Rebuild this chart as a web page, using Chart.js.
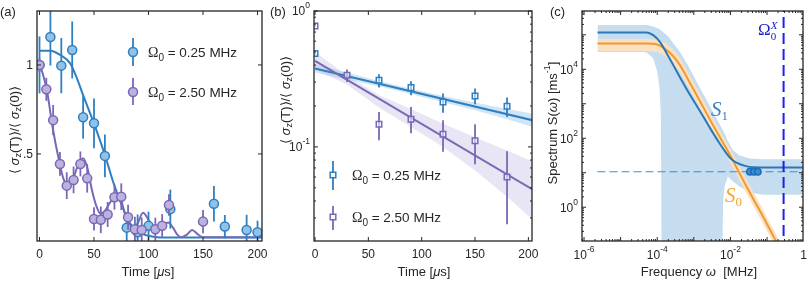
<!DOCTYPE html>
<html>
<head>
<meta charset="utf-8">
<script src="https://cdn.jsdelivr.net/npm/chart.js@4.4.1/dist/chart.umd.min.js"></script>
<style>
  html, body { margin: 0; padding: 0; background: #fff; }
  #wrap { position: relative; width: 810px; height: 286px; overflow: hidden; }
  #wrap canvas { position: absolute; top: 0; }
</style>
</head>
<body>
<div id="wrap">
  <canvas id="panelA" width="270" height="286" style="left:0"></canvas>
  <canvas id="panelB" width="270" height="286" style="left:270px"></canvas>
  <canvas id="panelC" width="270" height="286" style="left:540px"></canvas>
</div>
<script>
// ---------- data: panel (a), linear decay
const rabi = ['0.25', '2.50'];

const tA025 = [0, 10, 20, 30, 40, 50, 60, 80, 90, 100, 120, 160, 170, 190, 200];
const vA025 = [1.0, 1.157, 0.996, 1.084, 0.706, 0.672, 0.489, 0.086, 0.06, 0.096, 0.19, 0.22, 0.092, 0.073, 0.06];
const eA025 = [0.16, 0.16, 0.155, 0.16, 0.12, 0.14, 0.12, 0.085, 0.1, 0.08, 0.11, 0.1, 0.065, 0.085, 0.065];

const tA250 = [0, 6.25, 12.5, 18.75, 25, 31.25, 37.5, 43.75, 50, 56.25, 62.5, 68.75, 75, 81.25, 87.5, 93.75, 106.25, 112.5, 118.75, 150];
const vA250 = [1.0, 0.863, 0.69, 0.444, 0.322, 0.354, 0.444, 0.363, 0.135, 0.13, 0.16, 0.257, 0.26, 0.144, 0.077, 0.073, 0.077, 0.097, 0.213, 0.12];
const eA250 = [0.04, 0.065, 0.085, 0.067, 0.075, 0.075, 0.07, 0.08, 0.065, 0.075, 0.07, 0.07, 0.075, 0.07, 0.07, 0.07, 0.065, 0.065, 0.06, 0.065];

const tFitA025 = [0, 10, 19, 28, 34, 40, 50, 60, 68, 76, 83, 92, 105, 120, 204];
const fitA025 = [1.08, 1.08, 1.056, 1.01, 0.93, 0.83, 0.67, 0.494, 0.335, 0.204, 0.11, 0.058, 0.035, 0.03, 0.03];

const tFitA250 = [0, 3, 7, 12, 18, 22, 26, 30, 35, 40, 44, 48, 52, 56, 60, 65, 70, 74, 78, 82, 86, 90, 95, 100, 105, 110, 114, 118, 122, 126, 130, 135, 140, 145, 150, 204];
const fitA250 = [1.0, 0.95, 0.85, 0.65, 0.46, 0.36, 0.325, 0.35, 0.43, 0.476, 0.42, 0.30, 0.21, 0.165, 0.18, 0.23, 0.265, 0.255, 0.17, 0.11, 0.075, 0.11, 0.17, 0.13, 0.08, 0.075, 0.1, 0.115, 0.09, 0.05, 0.032, 0.045, 0.073, 0.05, 0.032, 0.032];

const ticksA_x = [0, 50, 100, 150, 200];
const labelsA_x = ['0', '50', '100', '150', '200'];
const ticksA_y = [0.5, 1];
const labelsA_y = ['.5', '1'];

// ---------- data: panel (b), log decay with exponential fits
const tB025 = [0, 60, 90, 120, 150, 180];
const vB025 = [0.486, 0.309, 0.273, 0.214, 0.237, 0.199];
const loB025 = [0.478, 0.273, 0.240, 0.178, 0.206, 0.166];
const hiB025 = [0.494, 0.342, 0.304, 0.247, 0.269, 0.231];

const tB250 = [0, 30, 60, 90, 120, 150, 180];
const vB250 = [0.776, 0.337, 0.147, 0.160, 0.124, 0.111, 0.060];
const loB250 = [0.765, 0.300, 0.112, 0.126, 0.092, 0.0746, 0.027];
const hiB250 = [0.787, 0.371, 0.181, 0.197, 0.157, 0.147, 0.093];

const tFitB = [0, 204];
const fitB025 = [0.377, 0.157];
const fitB250 = [0.429, 0.0486];

const tBandB = [0, 30, 60, 90, 120, 150, 180, 204];
const bandHiB025 = [0.405, 0.352, 0.306, 0.268, 0.237, 0.212, 0.19, 0.176];
const bandLoB025 = [0.352, 0.312, 0.279, 0.245, 0.213, 0.186, 0.16, 0.140];
const bandHiB250 = [0.50, 0.335, 0.24, 0.19, 0.148, 0.118, 0.094, 0.078];
const bandLoB250 = [0.37, 0.288, 0.195, 0.14, 0.1, 0.067, 0.043, 0.029];

const ticksB_x = [0, 50, 100, 150, 200];
const labelsB_x = ['0', '50', '100', '150', '200'];
const ticksB_y = [0.1, 1];
const labelsB_y = ['10^-1', '10^0'];

// ---------- data: panel (c), noise spectrum
const wS1 = [2.34e-6, 5.13e-5, 7.76e-5, 1.17e-4, 1.82e-4, 2.75e-4, 4.17e-4, 7.0e-4, 1.45e-3, 2.75e-3, 5.13e-3, 7.94e-3, 1.0e-2, 1.41e-2, 2.51e-2, 4.17e-2, 1];
const S1 = [1.17e5, 1.17e5, 9.77e4, 6.31e4, 2.88e4, 1.32e4, 5.89e3, 2.24e3, 631, 200, 69.2, 35.5, 26.3, 20.0, 15.8, 14.5, 14.1];

const wS0 = [2.34e-6, 5.01e-5, 1e-4, 1.58e-4, 2.51e-4, 4.17e-4, 7.0e-4, 1.17e-3, 3.39e-3, 9.55e-3, 2.75e-2, 7.76e-2, 0.2];
const S0 = [5.62e4, 5.62e4, 5.25e4, 3.98e4, 2.63e4, 1.32e4, 5.01e3, 1.86e3, 234, 33.9, 3.98, 0.537, 0.0794];
const S0hi = [7.59e4, 7.59e4, 7.24e4, 6.03e4, 4.17e4, 2.14e4, 7.94e3, 2.95e3, 363, 52.5, 6.31, 0.851, 0.126];
const S0lo = [3.39e4, 3.39e4, 3.16e4, 2.51e4, 1.66e4, 8.32e3, 3.16e3, 1.17e3, 148, 21.4, 2.51, 0.339, 0.0501];

const wBandS1 = [2.34e-6, 3.98e-5, 5.13e-5, 7.76e-5, 1.0e-4, 1.17e-4, 1.26e-4, 1.32e-4, 2.0e-4, 4.17e-4, 7.0e-4, 1.17e-3, 3.39e-3, 5.89e-3, 6.31e-3, 6.92e-3, 7.94e-3, 8.51e-3, 1.17e-2, 1.78e-2, 3.39e-2, 7.76e-2, 1];
const S1hi = [1.91e5, 1.91e5, 1.91e5, 1.74e5, 1.58e5, 1.45e5, 1.35e5, 1.32e5, 8.91e4, 3.16e4, 1.26e4, 4.47e3, 562, 191, 166, 138, 100, 83.2, 44.7, 31.6, 25.7, 24.5, 24.5];
const S1lo = [3.16e4, 3.16e4, 3.09e4, 2.09e4, 8.51e3, 2.51e3, 417, 0.01, 0.01, 0.01, 0.01, 0.01, 0.01, 0.01, 1.58, 3.98, 6.31, 7.76, 5.62, 3.98, 2.63, 2.29, 2.29];

const wFloor = [2.34e-6, 1];
const floorLevel = [10.7, 10.7];
const wMeasured = [0.034, 0.044, 0.056];
const sMeasured = [10.7, 10.7, 10.7];
const sMeasuredLo = [9.3, 9.3, 9.3];
const sMeasuredHi = [12.3, 12.3, 12.3];
const omegaX = 0.283;

const ticksC_x = [1e-6, 1e-4, 1e-2, 1];
const labelsC_x = ['10^-6', '10^-4', '10^-2', '1'];
const ticksC_y = [1, 100, 1e4];
const labelsC_y = ['10^0', '10^2', '10^4'];

// ---------- styling
const SANS = '"Liberation Sans", Arial, Helvetica, sans-serif';
const SERIF = '"Liberation Serif", "Times New Roman", serif';
const INK = '#262626';
const BLUE = '#2f7fc1', BLUE_FILL = '#8fc2e6';
const PURPLE = '#7a68b6', PURPLE_FILL = '#bdb2de';

// text made of pieces: [text, size, flags, dy, color]; flags: i italic, s serif, k stack on previous piece
function drawRich(ctx, parts, x, y, align, vertical, color) {
  ctx.save();
  ctx.translate(x, y);
  if (vertical) ctx.rotate(-Math.PI / 2);
  ctx.textBaseline = 'middle';
  ctx.textAlign = 'left';
  const items = parts.map(([text, size, flags = '', dy = 0, c]) => {
    const font = (flags.includes('i') ? 'italic ' : '') + size + 'px ' + (flags.includes('s') ? SERIF : SANS);
    ctx.font = font;
    return {text, font, dy, c, stack: flags.includes('k'), w: ctx.measureText(text).width};
  });
  let total = 0, prev = 0;
  items.forEach(it => {
    if (it.stack) { total += Math.max(0, it.w - prev); prev = Math.max(prev, it.w); }
    else { total += it.w; prev = it.w; }
  });
  let cx = align === 'center' ? -total / 2 : align === 'right' ? -total : 0;
  let slot = cx;
  prev = 0;
  items.forEach(it => {
    ctx.font = it.font;
    ctx.fillStyle = it.c || color || INK;
    if (it.stack) {
      ctx.fillText(it.text, slot, it.dy);
      prev = Math.max(prev, it.w);
      cx = slot + prev;
    } else {
      slot = cx;
      ctx.fillText(it.text, cx, it.dy);
      cx += it.w;
      prev = it.w;
    }
  });
  ctx.restore();
}

function tickParts(label) {
  const [base, exp] = label.split('^');
  return exp === undefined ? [[base, 12]] : [[base, 12], [exp, 8.5, '', -6]];
}

function tickSet(scale, majors, isLog) {
  if (!isLog) return majors.map(v => [v, true]);
  const out = [];
  for (let d = Math.floor(Math.log10(scale.min)); d <= Math.ceil(Math.log10(scale.max)); d++) {
    for (let k = 1; k <= 9; k++) {
      const v = k * Math.pow(10, d);
      if (v >= scale.min && v <= scale.max) out.push([v, k === 1]);
    }
  }
  return out;
}

const errorBars = {
  id: 'errorBars',
  beforeDatasetDraw(chart, args) {
    const ds = chart.data.datasets[args.index];
    if (!ds.lo) return;
    const {ctx, chartArea: a} = chart;
    const xs = chart.scales.x, ys = chart.scales.y;
    ctx.save();
    ctx.beginPath();
    ctx.rect(a.left, a.top, a.width, a.height);
    ctx.clip();
    ctx.strokeStyle = ds.pointBorderColor;
    ctx.lineWidth = 1.8;
    ds.data.forEach((p, i) => {
      const px = xs.getPixelForValue(p.x);
      ctx.beginPath();
      ctx.moveTo(px, ys.getPixelForValue(ds.lo[i]));
      ctx.lineTo(px, ys.getPixelForValue(ds.hi[i]));
      ctx.stroke();
    });
    ctx.restore();
  }
};

const frame = {
  id: 'frame',
  afterDatasetsDraw(chart, args, o) {
    const {ctx, chartArea: a} = chart;
    const xs = chart.scales.x, ys = chart.scales.y;
    ctx.save();
    ctx.strokeStyle = INK;
    ctx.lineWidth = 1;
    tickSet(xs, o.xTicks, o.xLog).forEach(([v, major]) => {
      const p = xs.getPixelForValue(v), len = major ? 4 : 2;
      ctx.beginPath();
      ctx.moveTo(p, a.bottom); ctx.lineTo(p, a.bottom - len);
      ctx.moveTo(p, a.top); ctx.lineTo(p, a.top + len);
      ctx.stroke();
    });
    tickSet(ys, o.yTicks, o.yLog).forEach(([v, major]) => {
      const p = ys.getPixelForValue(v), len = major ? 4 : 2;
      ctx.beginPath();
      ctx.moveTo(a.left, p); ctx.lineTo(a.left + len, p);
      ctx.moveTo(a.right, p); ctx.lineTo(a.right - len, p);
      ctx.stroke();
    });
    ctx.lineWidth = 1.3;
    ctx.strokeRect(a.left, a.top, a.width, a.height);

    (o.legend || []).forEach(l => {
      ctx.strokeStyle = l.stroke;
      ctx.lineWidth = 1.8;
      ctx.beginPath(); ctx.moveTo(l.x, l.y1); ctx.lineTo(l.x, l.y2); ctx.stroke();
      ctx.fillStyle = l.fill;
      ctx.lineWidth = 1.5;
      ctx.beginPath();
      if (l.style === 'rect') ctx.rect(l.x - l.r, l.y - l.r, 2 * l.r, 2 * l.r);
      else ctx.arc(l.x, l.y, l.r, 0, Math.PI * 2);
      ctx.fill(); ctx.stroke();
    });
    ctx.restore();

    (o.legend || []).forEach(l => drawRich(ctx, l.text, l.tx, l.y + 1, 'left'));
    o.xTicks.forEach((v, i) => drawRich(ctx, tickParts(o.xLabels[i]), xs.getPixelForValue(v), o.xLabelY, 'center'));
    o.yTicks.forEach((v, i) => drawRich(ctx, tickParts(o.yLabels[i]), a.left - 4, ys.getPixelForValue(v) + 1, 'right'));
    drawRich(ctx, o.xTitle, o.xTitleAt[0], o.xTitleAt[1], 'center');
    drawRich(ctx, o.yTitle, o.yTitleAt[0], o.yTitleAt[1], 'center', true);
    drawRich(ctx, [[o.letter, 13]], o.letterAt[0], o.letterAt[1], 'left');
    (o.notes || []).forEach(n => drawRich(ctx, n.parts, n.x, n.y, 'left', false, n.color));
  }
};

function pts(xs, ys) { return xs.map((x, i) => ({x, y: ys[i]})); }

function markerSet(xs, ys, lo, hi, stroke, fill, style, r) {
  return {data: pts(xs, ys), lo, hi, showLine: false, pointStyle: style, pointRadius: r,
    pointBorderWidth: 1.5, pointBorderColor: stroke, pointBackgroundColor: fill};
}

function lineSet(xs, ys, color, extra) {
  return Object.assign({data: pts(xs, ys), showLine: true, borderColor: color, borderWidth: 2,
    pointRadius: 0, fill: false, cubicInterpolationMode: 'monotone'}, extra || {});
}

function bandSet(xs, hi, lo, color) {
  return [
    {data: pts(xs, hi), showLine: true, borderColor: 'transparent', backgroundColor: color, pointRadius: 0, fill: '+1', tension: 0},
    {data: pts(xs, lo), showLine: true, borderColor: 'transparent', pointRadius: 0, fill: false, tension: 0}
  ];
}

function options(pad, xScale, yScale, frameOpts) {
  return {
    responsive: false, animation: false, events: [],
    layout: {padding: pad},
    plugins: {legend: {display: false}, tooltip: {enabled: false}, frame: frameOpts},
    scales: {
      x: Object.assign({display: false, bounds: 'data'}, xScale),
      y: Object.assign({display: false, bounds: 'data'}, yScale)
    }
  };
}

function legendText(i) {
  return [['Ω', 14, 's'], ['0', 10, '', 5], [' = ' + rabi[i] + ' MHz', 13.5]];
}

const sigmaTitle = [['⟨ ', 13], ['σ', 13, 'i'], ['z', 9, '', 4], ['(T)⟩/⟨ ', 13], ['σ', 13, 'i'], ['z', 9, '', 4], ['(0)⟩', 13]];
const timeTitle = [['Time [', 13], ['μ', 13, 'i'], ['s]', 13]];

// ---------- panel (a)
new Chart(document.getElementById('panelA'), {
  type: 'scatter',
  data: {datasets: [
    markerSet(tA250, vA250, vA250.map((v, i) => v - eA250[i]), vA250.map((v, i) => v + eA250[i]), PURPLE, PURPLE_FILL, 'circle', 4.5),
    markerSet(tA025, vA025, vA025.map((v, i) => v - eA025[i]), vA025.map((v, i) => v + eA025[i]), BLUE, BLUE_FILL, 'circle', 4.5),
    lineSet(tFitA250, fitA250, PURPLE),
    lineSet(tFitA025, fitA025, BLUE)
  ]},
  options: options({left: 37, top: 11, right: 8, bottom: 45},
    {type: 'linear', min: -2.3, max: 204.1},
    {type: 'linear', min: 0.011, max: 1.303},
    {xTicks: ticksA_x, xLabels: labelsA_x, yTicks: ticksA_y, yLabels: labelsA_y, xLabelY: 255,
     xTitle: timeTitle, xTitleAt: [148, 272], yTitle: sigmaTitle, yTitleAt: [15, 130],
     letter: '(a)', letterAt: [0, 12],
     legend: [
       {x: 133, y: 52, y1: 38, y2: 66, r: 4.5, style: 'circle', stroke: BLUE, fill: BLUE_FILL, tx: 148, text: legendText(0)},
       {x: 133, y: 92, y1: 78, y2: 105, r: 4.5, style: 'circle', stroke: PURPLE, fill: PURPLE_FILL, tx: 148, text: legendText(1)}
     ]}),
  plugins: [errorBars, frame]
});

// ---------- panel (b)
new Chart(document.getElementById('panelB'), {
  type: 'scatter',
  data: {datasets: [
    markerSet(tB250, vB250, loB250, hiB250, PURPLE, 'rgba(255,255,255,0.55)', 'rect', 3.9),
    markerSet(tB025, vB025, loB025, hiB025, BLUE, 'rgba(255,255,255,0.55)', 'rect', 3.9),
    lineSet(tFitB, fitB250, PURPLE, {tension: 0, cubicInterpolationMode: 'default'}),
    lineSet(tFitB, fitB025, BLUE, {tension: 0, cubicInterpolationMode: 'default'}),
    ...bandSet(tBandB, bandHiB025, bandLoB025, 'rgba(150, 200, 235, 0.45)'),
    ...bandSet(tBandB, bandHiB250, bandLoB250, 'rgba(190, 180, 225, 0.35)')
  ]},
  options: options({left: 44, top: 11, right: 8, bottom: 45},
    {type: 'linear', min: -0.94, max: 203.4},
    {type: 'logarithmic', min: 0.0203, max: 1.0},
    {xTicks: ticksB_x, xLabels: labelsB_x, yTicks: ticksB_y, yLabels: labelsB_y, yLog: true, xLabelY: 255,
     xTitle: timeTitle, xTitleAt: [154, 272], yTitle: sigmaTitle, yTitleAt: [16, 100],
     letter: '(b)', letterAt: [0, 12],
     legend: [
       {x: 63, y: 175, y1: 161, y2: 190, r: 2.8, style: 'rect', stroke: BLUE, fill: '#fff', tx: 82, text: legendText(0)},
       {x: 63, y: 217, y1: 206, y2: 230, r: 2.8, style: 'rect', stroke: PURPLE, fill: '#fff', tx: 82, text: legendText(1)}
     ]}),
  plugins: [errorBars, frame]
});

// ---------- panel (c)
new Chart(document.getElementById('panelC'), {
  type: 'scatter',
  data: {datasets: [
    markerSet(wMeasured, sMeasured, sMeasuredLo, sMeasuredHi, '#1f6db3', '#3a8fd3', 'circle', 3.2),
    lineSet([omegaX, omegaX], [0.05, 1e6], '#1d1df5', {tension: 0, cubicInterpolationMode: 'default', borderDash: [11, 5]}),
    lineSet(wS1, S1, '#2a78b8'),
    lineSet(wS0, S0, '#f19a2c'),
    lineSet(wFloor, floorLevel, '#3f8bd0', {borderWidth: 1.2, borderDash: [8, 4], tension: 0, cubicInterpolationMode: 'default'}),
    ...bandSet(wS0, S0hi, S0lo, '#fbe1c4'),
    ...bandSet(wBandS1, S1hi, S1lo, '#c6ddef')
  ]},
  options: options({left: 42, top: 11, right: 7, bottom: 45},
    {type: 'logarithmic', min: 8.8e-7, max: 0.96},
    {type: 'logarithmic', min: 0.105, max: 4.9e5},
    {xTicks: ticksC_x, xLabels: labelsC_x, xLog: true, yTicks: ticksC_y, yLabels: labelsC_y, yLog: true, xLabelY: 256,
     xTitle: [['Frequency ', 13], ['ω', 13, 'i'], ['  [MHz]', 13]], xTitleAt: [159, 272],
     yTitle: [['Spectrum S(', 13], ['ω', 13, 'i'], [') [ms', 13], ['-1', 9, '', -5], [']', 13]], yTitleAt: [13, 123],
     letter: '(c)', letterAt: [10, 12],
     notes: [
       {parts: [['Ω', 17, 's'], ['0', 11, 's', 6], ['X', 11, 'sik', -5]], x: 218, y: 31, color: '#2020c8'},
       {parts: [['S', 21, 'si'], ['1', 13, 's', 7]], x: 171, y: 110, color: '#3a7fc6'},
       {parts: [['S', 21, 'si'], ['0', 13, 's', 7]], x: 185, y: 196, color: '#f5a531'}
     ]}),
  plugins: [errorBars, frame]
});
</script>
</body>
</html>
